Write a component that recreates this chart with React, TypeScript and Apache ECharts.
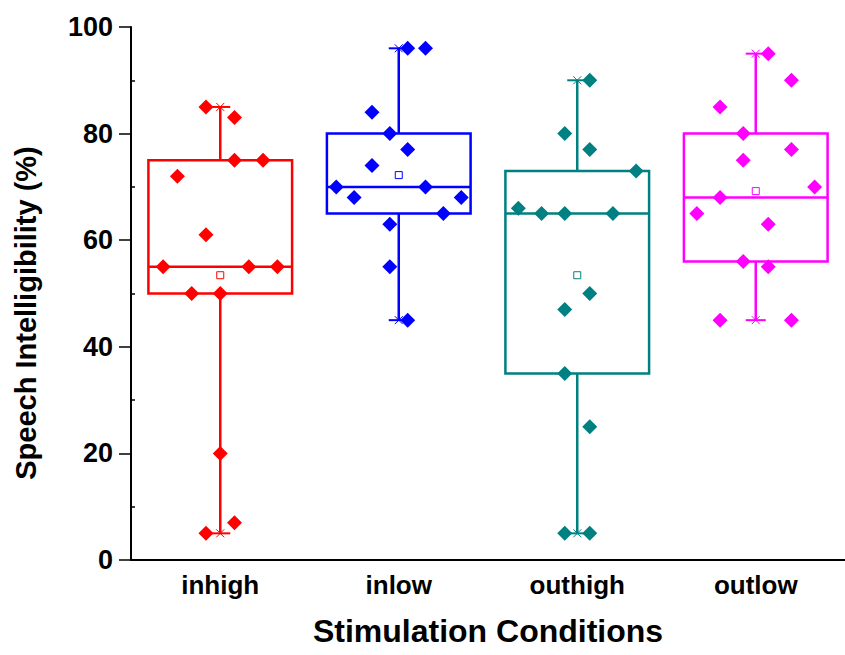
import React, { useEffect, useRef } from "react";
import * as echarts from "echarts";

const categories = ["inhigh", "inlow", "outhigh", "outlow"];
const colors = ["#FF0000", "#0000FF", "#008080", "#FF00FF"];

// Five-number summaries per condition: [min, Q1, median, Q3, max]
const boxInhigh = [5, 50, 55, 75, 85];
const boxInlow = [45, 65, 70, 80, 96];
const boxOuthigh = [5, 35, 65, 73, 90];
const boxOutlow = [45, 56, 68, 80, 95];

// Individual subject scores (%)
const valuesInhigh = [85, 83, 75, 75, 72, 61, 55, 55, 55, 50, 50, 20, 7, 5];
const valuesInlow = [96, 96, 84, 80, 77, 74, 70, 70, 68, 68, 65, 63, 55, 45];
const valuesOuthigh = [90, 80, 77, 73, 66, 65, 65, 65, 50, 47, 35, 25, 5, 5];
const valuesOutlow = [95, 90, 85, 80, 77, 75, 70, 68, 65, 63, 56, 55, 45, 45];

// Horizontal spread of each point, in fractions of a category band
const jitterInhigh = [-0.08, 0.08, 0.08, 0.24, -0.24, -0.08, -0.32, 0.16, 0.32, -0.16, 0, 0, 0.08, -0.08];
const jitterInlow = [0.05, 0.15, -0.15, -0.05, 0.05, -0.15, -0.35, 0.15, -0.25, 0.35, 0.25, -0.05, -0.05, 0.05];
const jitterOuthigh = [0.07, -0.07, 0.07, 0.33, -0.33, -0.2, -0.07, 0.2, 0.07, -0.07, -0.07, 0.07, -0.07, 0.07];
const jitterOutlow = [0.07, 0.2, -0.2, -0.07, 0.2, -0.07, 0.33, -0.2, -0.33, 0.07, -0.07, 0.07, -0.2, 0.2];

const yTicks = [0, 20, 40, 60, 80, 100];

const boxes = [boxInhigh, boxInlow, boxOuthigh, boxOutlow];
const groups = [valuesInhigh, valuesInlow, valuesOuthigh, valuesOutlow];
const jitters = [jitterInhigh, jitterInlow, jitterOuthigh, jitterOutlow];

const FONT = "'Liberation Sans', Arial, Helvetica, sans-serif";

const mean = (a: number[]) => a.reduce((s, v) => s + v, 0) / a.length;

export default function App() {
  const ref = useRef<HTMLDivElement>(null);

  useEffect(() => {
    if (!ref.current) return;
    const chart = echarts.init(ref.current, undefined, { renderer: "svg" });

    const boxData = boxes.map((b, i) => [i, ...b, mean(groups[i])]);

    const scatterSeries = groups.map((vals, i) => ({
      type: "scatter",
      xAxisIndex: 1,
      yAxisIndex: 0,
      symbol: "diamond",
      symbolSize: 15,
      z: 5,
      itemStyle: { color: colors[i], opacity: 1 },
      data: vals.map((v, k) => [i + jitters[i][k], v]),
    }));

    chart.setOption({
      animation: false,
      grid: { left: 131, top: 27, width: 726, height: 533 },
      xAxis: [
        {
          type: "category",
          data: categories,
          boundaryGap: true,
          axisLine: { onZero: false, lineStyle: { color: "#000", width: 2 } },
          axisTick: { alignWithLabel: true, length: 10, lineStyle: { color: "#000", width: 2 } },
          axisLabel: { fontSize: 26, fontWeight: "bold", color: "#000", margin: 12, fontFamily: FONT },
          name: "Stimulation Conditions",
          nameLocation: "middle",
          nameGap: 55,
          nameTextStyle: { fontSize: 32, fontWeight: "bold", color: "#000", fontFamily: FONT },
          splitLine: { show: false },
        },
        {
          type: "value",
          min: -0.5,
          max: 3.5,
          show: false,
          axisLine: { onZero: false },
          splitLine: { show: false },
        },
      ],
      yAxis: [
        {
          type: "value",
          min: yTicks[0],
          max: yTicks[yTicks.length - 1],
          interval: 20,
          axisLine: { show: true, onZero: false, lineStyle: { color: "#000", width: 2 } },
          axisTick: { show: true, length: 12, lineStyle: { color: "#000", width: 1.5 } },
          axisLabel: { fontSize: 27, fontWeight: "bold", color: "#000", margin: 18, fontFamily: FONT },
          splitLine: { show: false },
        },
        {
          type: "value",
          position: "left",
          min: yTicks[0],
          max: yTicks[yTicks.length - 1],
          interval: 20,
          axisLine: { show: false, onZero: false },
          axisTick: { show: false, inside: true },
          minorTick: { show: true, splitNumber: 2, length: 4, lineStyle: { color: "#000", width: 1.5 } },
          axisLabel: { show: false },
          splitLine: { show: false },
          minorSplitLine: { show: false },
        },
      ],
      graphic: [
        {
          type: "text",
          x: 26,
          y: 313,
          rotation: Math.PI / 2,
          style: {
            text: "Speech Intelligibility (%)",
            font: `bold 29px ${FONT}`,
            fill: "#000",
            textAlign: "center",
            textVerticalAlign: "middle",
            align: "center",
            verticalAlign: "middle",
          },
        },
      ],
      series: [
        {
          type: "custom",
          xAxisIndex: 0,
          yAxisIndex: 0,
          z: 2,
          data: boxData,
          encode: { x: 0, y: [1, 2, 3, 4, 5, 6] },
          renderItem: (params: any, api: any) => {
            const idx = api.value(0);
            const pt = (v: number) => api.coord([idx, v]);
            const [cx, yMin] = pt(api.value(1));
            const yQ1 = pt(api.value(2))[1];
            const yMed = pt(api.value(3))[1];
            const yQ3 = pt(api.value(4))[1];
            const yMax = pt(api.value(5))[1];
            const yMean = pt(api.value(6))[1];
            const band = api.size([1, 0])[0];
            const half = (band * 0.805) / 2;
            const color = colors[idx];
            const thick = { stroke: color, lineWidth: 2.5, fill: null };
            const cap = { stroke: color, lineWidth: 2, fill: null };
            const thin = { stroke: color, lineWidth: 1, fill: null };
            const capHalf = 10;
            const cross = (y: number) => [
              { type: "line", shape: { x1: cx - capHalf, y1: y, x2: cx + capHalf, y2: y }, style: cap },
              { type: "line", shape: { x1: cx - 4, y1: y - 4, x2: cx + 4, y2: y + 4 }, style: thin },
              { type: "line", shape: { x1: cx - 4, y1: y + 4, x2: cx + 4, y2: y - 4 }, style: thin },
            ];
            return {
              type: "group",
              children: [
                { type: "line", shape: { x1: cx, y1: yQ3, x2: cx, y2: yMax }, style: thick },
                { type: "line", shape: { x1: cx, y1: yQ1, x2: cx, y2: yMin }, style: thick },
                ...cross(yMax),
                ...cross(yMin),
                {
                  type: "rect",
                  shape: { x: cx - half, y: yQ3, width: half * 2, height: yQ1 - yQ3 },
                  style: { stroke: color, lineWidth: 2.5, fill: "none" },
                },
                { type: "line", shape: { x1: cx - half, y1: yMed, x2: cx + half, y2: yMed }, style: thick },
                {
                  type: "rect",
                  z2: 20,
                  shape: { x: cx - 3.5, y: yMean - 3.5, width: 7, height: 7 },
                  style: { stroke: color, lineWidth: 1, fill: "#fff" },
                },
              ],
            };
          },
        },
        ...scatterSeries,
      ],
    });

    return () => chart.dispose();
  }, []);

  return (
    <div
      ref={ref}
      style={{ position: "absolute", left: 0, top: 0, width: 845, height: 655, background: "#fff" }}
    />
  );
}
